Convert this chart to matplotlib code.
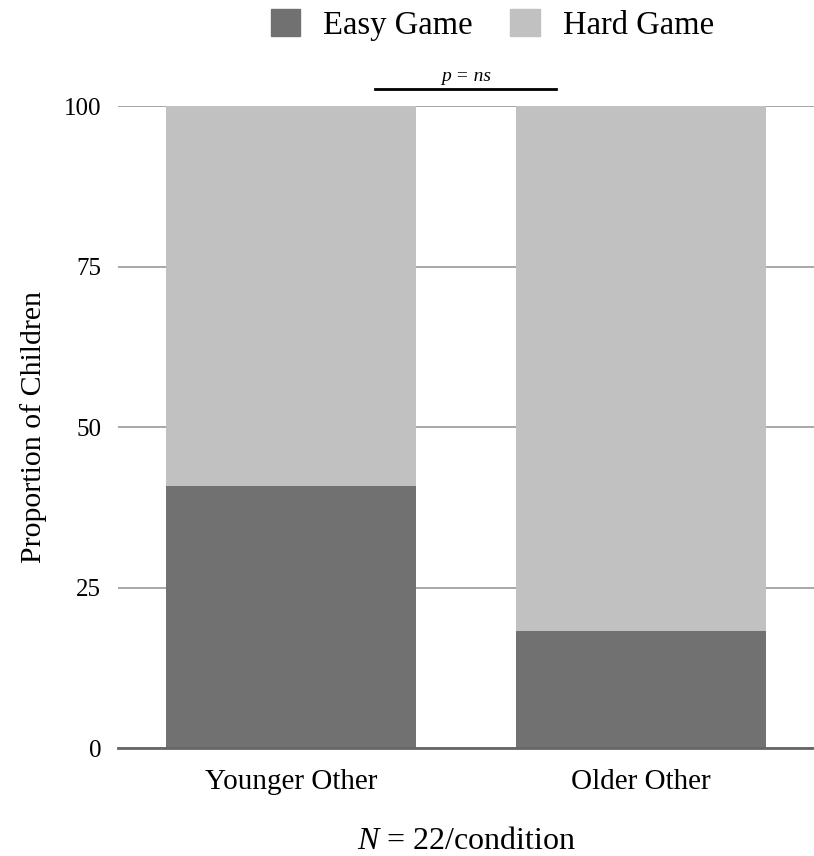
import numpy as np
import matplotlib.pyplot as plt
from matplotlib.patches import Patch

conditions = ['Younger Other', 'Older Other']
easy = [40.9, 18.2]
hard = [59.1, 81.8]
y_ticks = [0, 25, 50, 75, 100]

easy_color = '#717171'
hard_color = '#c1c1c1'

plt.rcParams['font.family'] = ['Liberation Serif', 'DejaVu Serif']
plt.rcParams['mathtext.fontset'] = 'custom'
plt.rcParams['mathtext.rm'] = 'Liberation Serif'
plt.rcParams['mathtext.it'] = 'Liberation Serif:italic'

fig = plt.figure(figsize=(8.14, 8.56), dpi=100)
ax = fig.add_axes([0.145, 0.126, 0.855, 0.750])

x = np.arange(len(conditions))
ax.bar(x, easy, width=0.714, color=easy_color, zorder=2)
ax.bar(x, hard, width=0.714, bottom=easy, color=hard_color, zorder=2)

ax.set_xlim(-0.494, 1.494)
ax.set_ylim(0, 100)
ax.set_yticks(y_ticks)
ax.set_yticklabels([str(t) for t in y_ticks], fontsize=18)
ax.set_xticks(x)
ax.set_xticklabels(conditions, fontsize=21)
ax.tick_params(axis='y', length=0, pad=12)
ax.tick_params(axis='x', length=0, pad=15)
ax.yaxis.grid(True, color='#a0a0a0', linewidth=1.3, zorder=0)
for s in ['top', 'right', 'left']:
    ax.spines[s].set_visible(False)
ax.spines['bottom'].set_color('#666666')
ax.spines['bottom'].set_linewidth(2)
ax.spines['bottom'].set_zorder(3)

ax.set_ylabel('Proportion of Children', fontsize=21.5, labelpad=12)
ax.set_xlabel(r'$N$ = 22/condition', fontsize=23, labelpad=23)

# significance bar
ax.plot([0.24, 0.757], [102.6, 102.6], color='black', linewidth=2, clip_on=False)
ax.text(0.5, 103.3, 'p = ns', ha='center', va='bottom', fontsize=14, style='italic')

handles = [Patch(color=easy_color, label='Easy Game'), Patch(color=hard_color, label='Hard Game')]
fig.legend(handles=handles, loc='center', bbox_to_anchor=(0.605, 0.971), ncol=2, frameon=False,
           fontsize=23.5, handlelength=0.9, handleheight=0.9, columnspacing=1.15, handletextpad=0.7)

fig.savefig('out.png', dpi=100)
